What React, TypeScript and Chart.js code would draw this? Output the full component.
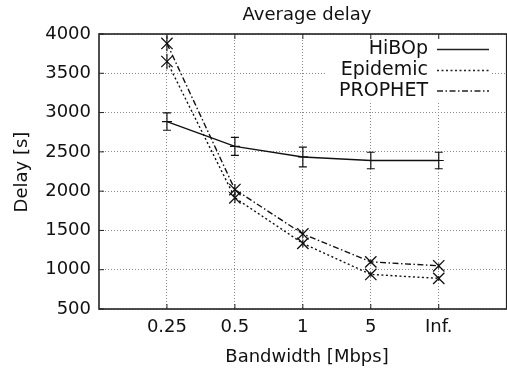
import React, { useEffect, useRef } from "react";
import { Chart, registerables } from "chart.js";
Chart.register(...registerables);

const categories = ["0.25", "0.5", "1", "5", "Inf."];
const xPositions = [1, 2, 3, 4, 5];
const hibopValues = [2885, 2570, 2435, 2390, 2390];
const hibopErrors = [110, 115, 125, 105, 105];
const epidemicValues = [3650, 1915, 1335, 940, 890];
const epidemicErrors = [100, 70, 50, 30, 30];
const prophetValues = [3880, 2020, 1455, 1100, 1050];
const prophetErrors = [100, 70, 50, 30, 30];
const yTickValues = [500, 1000, 1500, 2000, 2500, 3000, 3500, 4000];
const seriesNames = ["HiBOp", "Epidemic", "PROPHET"];
const seriesDashes: number[][] = [[], [2, 2.5], [6, 2.5, 1.5, 2.5]];

const FONT = "'DejaVu Sans', sans-serif";
const INK = "#111";

const overlay = {
  id: "overlay",
  beforeDatasetsDraw(chart: any) {
    const ctx = chart.ctx;
    ctx.save();
    ctx.fillStyle = "#fff";
    ctx.fillRect(326, 38, 166, 63);
    ctx.restore();
  },
  afterDatasetsDraw(chart: any) {
    const ctx = chart.ctx;
    const { left, top, bottom, right } = chart.chartArea;
    const xs = chart.scales.x;
    const ys = chart.scales.y;
    ctx.save();
    const errSets = [hibopErrors, epidemicErrors, prophetErrors];
    const valSets = [hibopValues, epidemicValues, prophetValues];
    ctx.strokeStyle = INK;
    ctx.lineWidth = 1.2;
    ctx.setLineDash([]);
    errSets.forEach((errs, si) => {
      errs.forEach((e, i) => {
        const px = xs.getPixelForValue(xPositions[i]);
        const y1 = ys.getPixelForValue(valSets[si][i] + e);
        const y2 = ys.getPixelForValue(valSets[si][i] - e);
        ctx.beginPath();
        ctx.moveTo(px, y1);
        ctx.lineTo(px, y2);
        if (si === 0) {
          ctx.moveTo(px - 4, y1);
          ctx.lineTo(px + 4, y1);
          ctx.moveTo(px - 4, y2);
          ctx.lineTo(px + 4, y2);
        }
        ctx.stroke();
      });
    });
    ctx.lineWidth = 1.6;
    ctx.strokeStyle = "#222";
    ctx.strokeRect(left, top, right - left, bottom - top);
    ctx.lineWidth = 1;
    ctx.beginPath();
    xPositions.forEach((v) => {
      const px = xs.getPixelForValue(v);
      ctx.moveTo(px, bottom);
      ctx.lineTo(px, bottom - 5);
      ctx.moveTo(px, top);
      ctx.lineTo(px, top + 5);
    });
    yTickValues.forEach((v) => {
      const py = ys.getPixelForValue(v);
      ctx.moveTo(left, py);
      ctx.lineTo(left + 5, py);
    });
    ctx.stroke();
    const rows = [49.5, 70.5, 91];
    ctx.font = `19px ${FONT}`;
    ctx.fillStyle = INK;
    ctx.textAlign = "right";
    ctx.textBaseline = "middle";
    seriesNames.forEach((n, i) => {
      ctx.fillText(n, 428, rows[i]);
      ctx.beginPath();
      ctx.setLineDash(seriesDashes[i]);
      ctx.lineWidth = 1.3;
      ctx.moveTo(437, rows[i]);
      ctx.lineTo(489, rows[i]);
      ctx.stroke();
    });
    ctx.setLineDash([]);
    ctx.textAlign = "center";
    ctx.font = `18px ${FONT}`;
    ctx.fillText("Average delay", 307, 15);
    ctx.fillText("Bandwidth [Mbps]", 307, 357);
    ctx.translate(22, 172);
    ctx.rotate(-Math.PI / 2);
    ctx.fillText("Delay [s]", 0, 0);
    ctx.restore();
  },
};

export default function App() {
  const ref = useRef<HTMLCanvasElement>(null);
  useEffect(() => {
    if (!ref.current) return;
    const mk = (vals: number[]) => vals.map((v, i) => ({ x: xPositions[i], y: v }));
    const chart = new Chart(ref.current, {
      type: "line",
      data: {
        datasets: [
          {
            label: seriesNames[0],
            data: mk(hibopValues),
            borderColor: INK,
            borderWidth: 1.4,
            pointStyle: "line",
            pointRadius: 5,
            pointBorderColor: INK,
            pointBorderWidth: 1.2,
            tension: 0,
          },
          {
            label: seriesNames[1],
            data: mk(epidemicValues),
            borderColor: INK,
            borderWidth: 1.4,
            borderDash: seriesDashes[1],
            pointStyle: "crossRot",
            pointRadius: 8,
            pointBorderColor: INK,
            pointBorderWidth: 1.3,
            tension: 0,
          },
          {
            label: seriesNames[2],
            data: mk(prophetValues),
            borderColor: INK,
            borderWidth: 1.4,
            borderDash: seriesDashes[2],
            pointStyle: "crossRot",
            pointRadius: 8,
            pointBorderColor: INK,
            pointBorderWidth: 1.3,
            tension: 0,
          },
        ],
      },
      options: {
        responsive: false,
        animation: false,
        devicePixelRatio: 1,
        layout: { padding: { top: 34, left: 0, right: 0, bottom: 0 } },
        plugins: { legend: { display: false }, title: { display: false }, tooltip: { enabled: false } },
        scales: {
          x: {
            type: "linear",
            min: 0,
            max: 6,
            afterBuildTicks: (s: any) => {
              s.ticks = xPositions.map((v) => ({ value: v }));
            },
            afterFit: (s: any) => {
              s.height = 62;
            },
            ticks: {
              callback: (v: any) => categories[xPositions.indexOf(Number(v))] ?? "",
              font: { family: FONT, size: 18 },
              color: INK,
              padding: 8,
              maxRotation: 0,
              autoSkip: false,
            },
            grid: { color: "#8a8a8a", lineWidth: 1, drawTicks: false },
            border: { display: false, dash: [1, 2] },
          },
          y: {
            min: 500,
            max: 4000,
            afterBuildTicks: (s: any) => {
              s.ticks = yTickValues.map((v) => ({ value: v }));
            },
            afterFit: (s: any) => {
              s.width = 99;
            },
            ticks: {
              callback: (v: any) => String(v),
              font: { family: FONT, size: 18 },
              color: INK,
              padding: 8,
            },
            grid: { color: "#8a8a8a", lineWidth: 1, drawTicks: false },
            border: { display: false, dash: [1, 2] },
          },
        },
      },
      plugins: [overlay],
    });
    return () => chart.destroy();
  }, []);
  return (
    <div
      style={{
        position: "fixed",
        left: 0,
        top: 0,
        width: 507,
        height: 371,
        overflow: "hidden",
        background: "#fff",
      }}
    >
      <canvas ref={ref} width={516} height={371} style={{ width: 516, height: 371, display: "block" }} />
    </div>
  );
}
